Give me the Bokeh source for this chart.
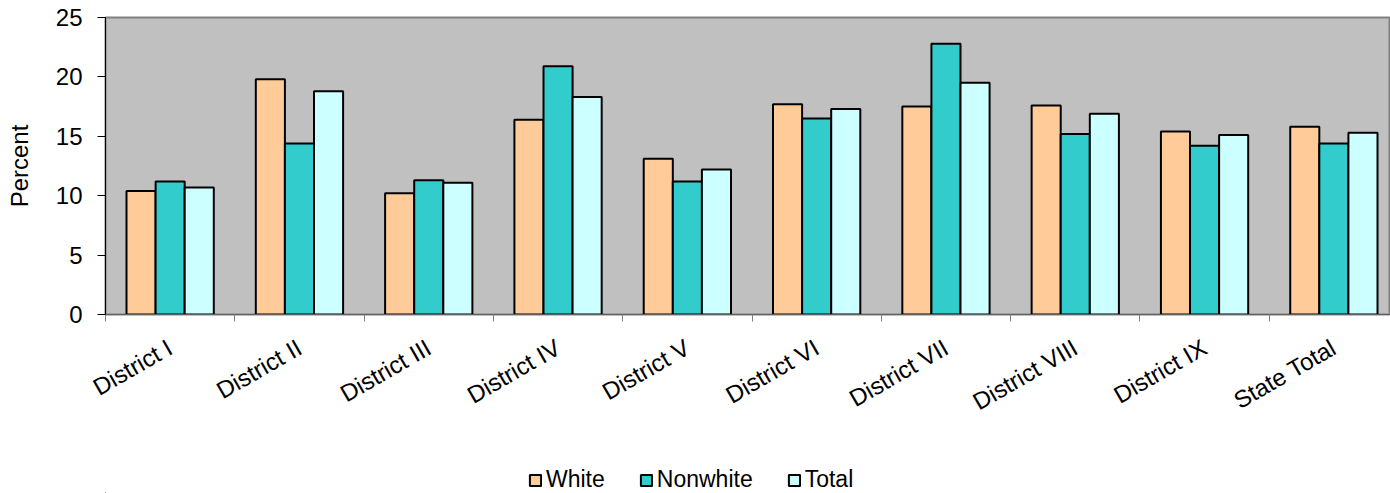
import math
from bokeh.plotting import figure
from bokeh.layouts import column
from bokeh.models import Range1d, FixedTicker, Legend, LegendItem, ColumnDataSource
from bokeh.embed import file_html
from bokeh.resources import INLINE

districts = ["District I", "District II", "District III", "District IV", "District V",
             "District VI", "District VII", "District VIII", "District IX", "State Total"]
white = [10.4, 19.8, 10.2, 16.4, 13.1, 17.7, 17.5, 17.6, 15.4, 15.8]
nonwhite = [11.2, 14.4, 11.3, 20.9, 11.2, 16.5, 22.8, 15.2, 14.2, 14.4]
total = [10.7, 18.8, 11.1, 18.3, 12.2, 17.3, 19.5, 16.9, 15.1, 15.3]
y_ticks = [0, 5, 10, 15, 20, 25]

FONT = "Liberation Sans"
FS = "24px"
idx = list(range(len(districts)))
bw = 0.225

p = figure(width=1390, height=455, output_backend="svg", toolbar_location=None,
           x_range=Range1d(-0.5, 9.438), y_range=Range1d(0, 25),
           min_border_left=105, min_border_top=17, min_border_right=0, min_border_bottom=141)
p.background_fill_color = "#C0C0C0"
p.border_fill_color = "white"
p.outline_line_color = "#808080"
p.outline_line_width = 2
p.xgrid.visible = False
p.ygrid.visible = False

series = [(white, -bw, "#FFCC99", "White"), (nonwhite, 0.0, "#33CCCC", "Nonwhite"),
          (total, bw, "#CCFFFF", "Total")]
for vals, off, col, name in series:
    src = ColumnDataSource(dict(x=[i + off for i in idx], top=vals))
    p.vbar(x="x", top="top", width=bw, bottom=0, source=src,
           fill_color=col, line_color="black", line_width=2)

# y axis
p.yaxis.ticker = FixedTicker(ticks=y_ticks)
p.yaxis.axis_line_color = "black"
p.yaxis.axis_line_width = 1
p.yaxis.major_tick_line_color = "black"
p.yaxis.major_tick_out = 8
p.yaxis.major_tick_in = 0
p.yaxis.minor_tick_line_color = None
p.yaxis.major_label_text_font = FONT
p.yaxis.major_label_text_font_size = FS
p.yaxis.major_label_text_color = "black"
p.yaxis.major_label_standoff = 15
p.yaxis.axis_label = "Percent"
p.yaxis.axis_label_text_font = FONT
p.yaxis.axis_label_text_font_size = FS
p.yaxis.axis_label_text_font_style = "normal"
p.yaxis.axis_label_text_color = "black"
p.yaxis.axis_label_standoff = 20

# x axis
p.xaxis.ticker = FixedTicker(ticks=idx, minor_ticks=[i - 0.5 for i in range(len(districts) + 1)])
p.xaxis.major_label_overrides = {i: d for i, d in zip(idx, districts)}
p.xaxis.major_tick_line_color = None
p.xaxis.major_tick_out = 0
p.xaxis.minor_tick_line_color = "#808080"
p.xaxis.minor_tick_out = 7
p.xaxis.minor_tick_in = 0
p.xaxis.axis_line_color = "#606060"
p.xaxis.major_label_orientation = math.pi / 6
p.xaxis.major_label_text_font = FONT
p.xaxis.major_label_text_font_size = FS
p.xaxis.major_label_text_color = "black"
p.xaxis.major_label_standoff = 24

# legend in a strip below
lf = figure(width=1390, height=38, output_backend="svg", toolbar_location=None,
            x_axis_type=None, y_axis_type=None, x_range=Range1d(0, 1), y_range=Range1d(0, 1),
            min_border_left=105, min_border_right=0, min_border_top=0, min_border_bottom=0)
lf.outline_line_color = None
lf.xgrid.visible = False
lf.ygrid.visible = False
lf.background_fill_color = "white"
lf.border_fill_color = "white"
items = []
for vals, off, col, name in series:
    r = lf.vbar(x=[-5], top=[-5], bottom=[-6], width=0.1, fill_color=col,
                line_color="black", line_width=2)
    items.append(LegendItem(label=name, renderers=[r]))
legend = Legend(items=items, orientation="horizontal", location=(423, 0),
                label_text_font=FONT, label_text_font_size="23px", label_text_color="black",
                glyph_width=14, glyph_height=14, spacing=34, label_standoff=4,
                border_line_color=None, background_fill_alpha=0, margin=0, padding=0)
lf.add_layout(legend, "center")

open("out.html", "w").write(file_html(column(p, lf, spacing=0), INLINE))
